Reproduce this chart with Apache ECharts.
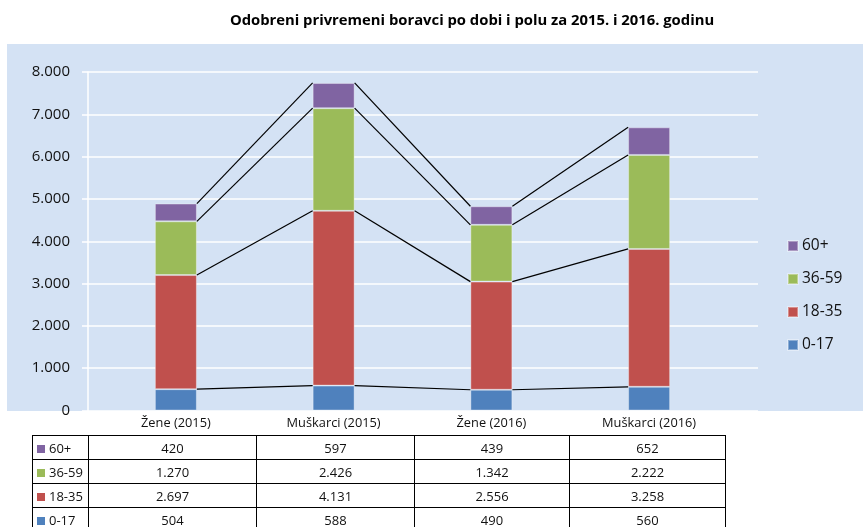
<!DOCTYPE html>
<html>
<head>
<meta charset="utf-8">
<script src="https://cdn.jsdelivr.net/npm/echarts@6/dist/echarts.min.js"></script>
<style>
  html, body { margin: 0; padding: 0; background: #fff; }
  #wrap { position: relative; width: 863px; height: 527px; overflow: hidden; }
  #chart { position: absolute; left: 0; top: 0; width: 863px; height: 527px; }
  #tbl { position: absolute; left: 32px; top: 435px; border-collapse: collapse;
         font-family: "Open Sans", sans-serif; font-size: 13px; color: #111; }
  #tbl td { border: 1px solid #000; height: 23px; padding: 0; text-align: center; }
  #tbl td.lab { text-align: left; padding-left: 4px; width: 51px; }
  #tbl td .sq { display: inline-block; width: 8px; height: 8px; margin-right: 4px; vertical-align: 0px; }
</style>
</head>
<body>
<div id="wrap">
  <div id="chart"></div>
  <table id="tbl"></table>
</div>
<script>
const title = 'Odobreni privremeni boravci po dobi i polu za 2015. i 2016. godinu';
const categories = ['Žene (2015)', 'Muškarci (2015)', 'Žene (2016)', 'Muškarci (2016)'];
const seriesNames = ['0-17', '18-35', '36-59', '60+'];
const age0_17 = [504, 588, 490, 560];
const age18_35 = [2697, 4131, 2556, 3258];
const age36_59 = [1270, 2426, 1342, 2222];
const age60 = [420, 597, 439, 652];
const colors = ['#4F81BD', '#C0504D', '#9BBB59', '#8064A2'];
const yTicks = [0, 1000, 2000, 3000, 4000, 5000, 6000, 7000, 8000];

const seriesData = [age0_17, age18_35, age36_59, age60];
const fmt = v => String(v).replace(/\B(?=(\d{3})+(?!\d))/g, '.');

// cumulative tops for series lines
const cum = seriesData.map((_, k) => categories.map((_, i) => {
  let s = 0; for (let j = 0; j <= k; j++) s += seriesData[j][i]; return s;
}));

// table
const colWidths = [168, 158, 155, 156];
const tbl = document.getElementById('tbl');
for (let k = seriesNames.length - 1; k >= 0; k--) {
  const tr = document.createElement('tr');
  const lab = document.createElement('td');
  lab.className = 'lab';
  lab.innerHTML = '<span class="sq" style="background:' + colors[k] + '"></span>' + seriesNames[k];
  tr.appendChild(lab);
  seriesData[k].forEach((v, i) => {
    const td = document.createElement('td');
    td.style.width = (colWidths[i] - 1) + 'px';
    td.textContent = fmt(v);
    tr.appendChild(td);
  });
  tbl.appendChild(tr);
}

const BW = 42;
const chart = echarts.init(document.getElementById('chart'));
const font = '"Open Sans", sans-serif';
const option = {
  animation: false,
  title: {
    text: title, left: 467, top: 8, textAlign: 'center',
    textStyle: { fontFamily: font, fontSize: 14.8, fontWeight: 'bold', color: '#000' }
  },
  graphic: [{
    type: 'rect', z: -10, silent: true,
    shape: { x: 7, y: 44, width: 895, height: 367, r: [0, 35, 0, 0] },
    style: { fill: '#D4E2F4' }
  }],
  legend: {
    orient: 'vertical', left: 787, top: 238, padding: 0,
    data: ['60+', '36-59', '18-35', '0-17'],
    icon: 'rect', itemWidth: 10, itemHeight: 10, itemGap: 17,
    textStyle: { fontFamily: font, fontSize: 15.5, color: '#111', lineHeight: 16, padding: [0, 0, 0, -1] }
  },
  grid: [
    { left: 88, right: 105, top: 72, height: 338.5 },
    { left: 97, right: 135, top: 72, height: 338.5 }
  ],
  xAxis: [
    { gridIndex: 0, type: 'category', data: categories, show: false },
    { gridIndex: 1, type: 'category', data: categories,
      axisLine: { show: false }, axisTick: { show: false },
      axisLabel: { margin: 6, fontFamily: font, fontSize: 12.8, color: '#111' } }
  ],
  yAxis: [
    { gridIndex: 0, type: 'value', min: 0, max: 8000, interval: 1000,
      axisLine: { show: true, lineStyle: { color: '#fff', width: 1.5 } },
      axisTick: { show: true, length: 6, lineStyle: { color: '#fff', width: 1.5 } },
      splitLine: { show: true, lineStyle: { color: '#fff', width: 1.5 } },
      axisLabel: { margin: 18, fontFamily: font, fontSize: 15, color: '#111',
        formatter: v => fmt(v) } },
    { gridIndex: 1, type: 'value', min: 0, max: 8000, interval: 1000, show: false }
  ],
  series: seriesNames.map((n, k) => ({
    name: n, type: 'bar', stack: 'total', xAxisIndex: 1, yAxisIndex: 1,
    barWidth: BW, data: seriesData[k],
    itemStyle: { color: colors[k], borderColor: 'rgba(255,255,255,0.35)', borderWidth: 1 }
  })).concat([{
    type: 'custom', xAxisIndex: 1, yAxisIndex: 1, z: 5, silent: true,
    data: categories.slice(0, categories.length - 1).map((c, i) => i),
    renderItem: function (params, api) {
      const i = api.value(0);
      const children = cum.map(levels => {
        const a = api.coord([i, levels[i]]);
        const b = api.coord([i + 1, levels[i + 1]]);
        return {
          type: 'line',
          shape: { x1: a[0] + BW / 2, y1: a[1], x2: b[0] - BW / 2, y2: b[1] },
          style: { stroke: '#000', lineWidth: 1.2 }
        };
      });
      return { type: 'group', children: children };
    }
  }])
};
chart.setOption(option);
</script>
</body>
</html>
